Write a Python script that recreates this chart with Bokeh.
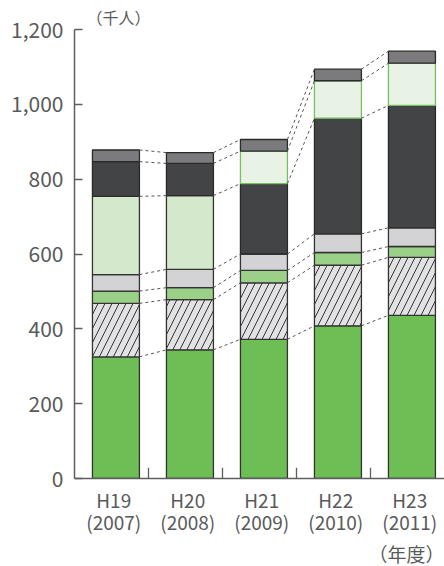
import numpy as np
from bokeh.plotting import figure
from bokeh.models import Range1d, FixedTicker, NumeralTickFormatter, Title
from bokeh.embed import file_html
from bokeh.resources import INLINE

# Fiscal years (Heisei / Western calendar)
years = ["H19\n(2007)", "H20\n(2008)", "H21\n(2009)", "H22\n(2010)", "H23\n(2011)"]

# Stacked components, thousand persons, bottom to top
green = [325, 344, 372, 408, 436]
hatched = [143, 134, 151, 162, 155]
light_green = [33, 32, 33, 34, 29]
light_gray = [44, 49, 44, 50, 50]
pale_green = [209, 197, 0, 0, 0]
dark = [93, 86, 188, 309, 327]
very_pale = [0, 0, 87, 100, 113]
mid_gray = [31, 29, 31, 31, 32]

y_ticks = [0, 200, 400, 600, 800, 1000, 1200]

FONT = "Noto Sans CJK JP"
TEXT = "#5a5a5a"
AXIS = "#5f5f5f"

series = [
    (green, dict(fill_color="#6dbf55", line_color="#333333")),
    (hatched, dict(fill_color="#e2e2e4", line_color="#333333", hatch_pattern="/",
                   hatch_color="#333333", hatch_scale=14, hatch_weight=1)),
    (light_green, dict(fill_color="#9bd089", line_color="#333333")),
    (light_gray, dict(fill_color="#d3d3d5", line_color="#333333")),
    (pale_green, dict(fill_color="#d4e8cb", line_color="#333333")),
    (dark, dict(fill_color="#434446", line_color="#2a2a2a")),
    (very_pale, dict(fill_color="#e9f3e5", line_color="#74c160")),
    (mid_gray, dict(fill_color="#7b7b7d", line_color="#2a2a2a")),
]

n = len(years)
idx = np.arange(n)
bar_x = idx + 0.56
bar_w = 0.635

p = figure(width=444, height=566, output_backend="svg", toolbar_location=None,
           x_range=Range1d(0, n), y_range=Range1d(0, 1200),
           min_border_left=74, min_border_right=0, min_border_top=29,
           min_border_bottom=85, outline_line_color=None)
p.grid.visible = False
p.background_fill_color = "white"
p.border_fill_color = "white"

# stacked bars
bottom = np.zeros(n)
for vals, style in series:
    v = np.array(vals, dtype=float)
    top = bottom + v
    m = v > 0
    p.vbar(x=bar_x[m], width=bar_w, bottom=bottom[m], top=top[m],
           line_width=1.3, **style)
    bottom = top

# dashed connectors between matching boundaries of neighbouring bars
stack = np.array([s[0] for s in series], dtype=float)
cum = np.cumsum(stack, axis=0)
present = stack > 0
bounds = [cum[present[:, i], i] for i in range(n)]
x0s, y0s, x1s, y1s = [], [], [], []
for i in range(n - 1):
    for a, b in zip(bounds[i], bounds[i + 1]):
        x0s.append(bar_x[i] + bar_w / 2)
        x1s.append(bar_x[i + 1] - bar_w / 2)
        y0s.append(a)
        y1s.append(b)
p.segment(x0=x0s, y0=y0s, x1=x1s, y1=y1s, line_color="#555555",
          line_width=1, line_dash="3 3")

# category separators rising from the baseline
sep = idx[1:]
p.segment(x0=sep, y0=0, x1=sep, y1=29, line_color=AXIS, line_width=1.3)

# axes
ya = p.yaxis[0]
ya.ticker = FixedTicker(ticks=y_ticks)
ya.formatter = NumeralTickFormatter(format="0,0")
ya.major_tick_in = 8
ya.major_tick_out = 0
ya.minor_tick_line_color = None
ya.axis_line_color = AXIS
ya.axis_line_width = 1.5
ya.major_tick_line_color = AXIS
ya.major_tick_line_width = 1.3
ya.major_label_text_font = FONT
ya.major_label_text_font_size = "21px"
ya.major_label_text_color = TEXT
ya.major_label_standoff = 11

xa = p.xaxis[0]
xa.ticker = FixedTicker(ticks=list(idx + 0.53))
xa.major_label_overrides = {float(i + 0.53): years[i] for i in range(n)}
xa.major_tick_in = 0
xa.major_tick_out = 0
xa.minor_tick_line_color = None
xa.axis_line_color = AXIS
xa.axis_line_width = 1.5
xa.major_label_text_font = FONT
xa.major_label_text_font_size = "19px"
xa.major_label_text_line_height = 0.82
xa.major_label_text_color = TEXT
xa.major_label_standoff = 7

# unit captions
p.add_layout(Title(text="（千人）", align="left", offset=12, standoff=1,
                   text_font=FONT, text_font_size="16px", text_color=TEXT,
                   text_font_style="normal"), "above")
p.add_layout(Title(text="（年度）", align="right", offset=0, standoff=0,
                   text_font=FONT, text_font_size="19px", text_color=TEXT,
                   text_font_style="normal"), "below")

open("out.html", "w").write(file_html(p, INLINE))
